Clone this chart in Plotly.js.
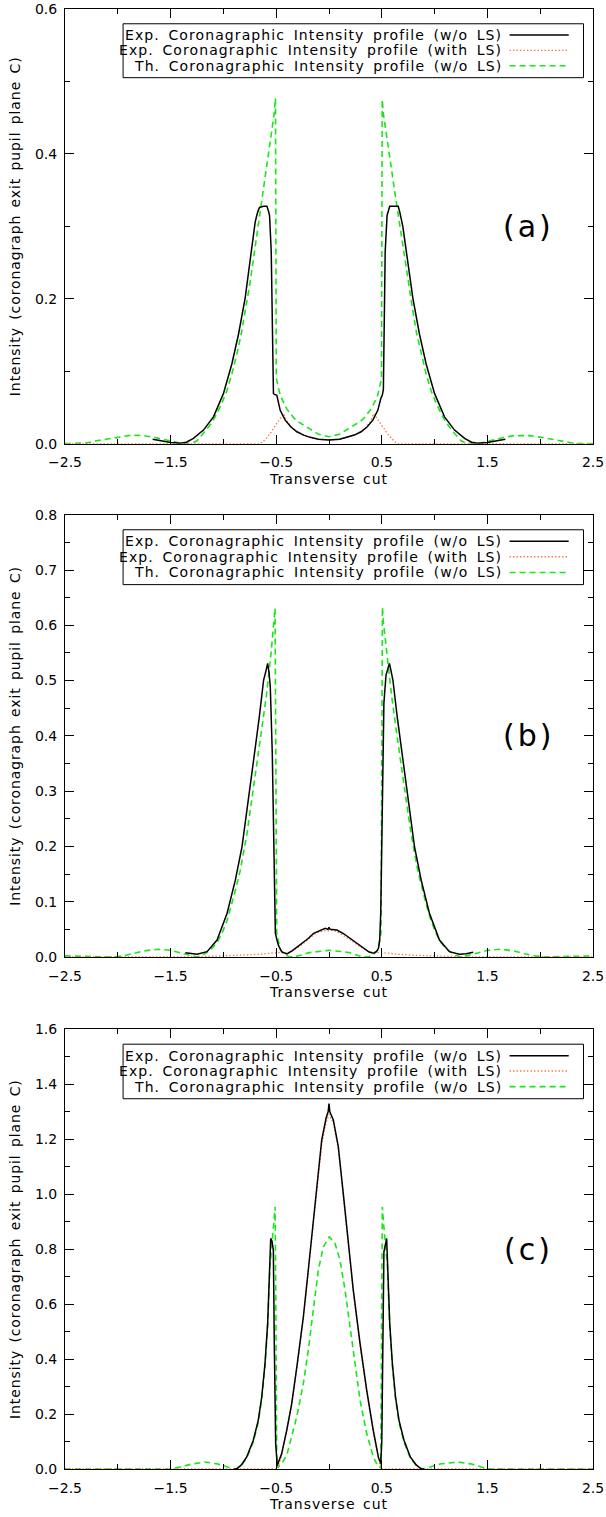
<!DOCTYPE html>
<html><head><meta charset="utf-8">
<script src="https://cdn.plot.ly/plotly-3.0.1.min.js"></script>
<style>html,body{margin:0;padding:0;background:#fff}</style>
</head><body><div id="chart" style="width:606px;height:1517px"></div>
<script>
// ---------- Panel (a) ----------
const a_exp_x = [-1.67,-1.6,-1.5,-1.41,-1.35,-1.284,-1.189,-1.094,-1.0,-0.92,-0.857,-0.794,-0.746,-0.699,-0.675,-0.658,-0.62,-0.588,-0.575,-0.563,-0.547,-0.535,-0.526,-0.515,-0.494,-0.462,-0.415,-0.36,-0.304,-0.24,-0.178,-0.1,0.0,0.1,0.178,0.24,0.304,0.36,0.415,0.462,0.49,0.505,0.515,0.523,0.532,0.55,0.575,0.62,0.655,0.67,0.699,0.746,0.794,0.857,0.92,1.0,1.094,1.189,1.284,1.35,1.41,1.5,1.6,1.67];
const a_exp_y = [0.006,0.004,0.0015,0.0005,0.002,0.0073,0.0187,0.037,0.069,0.11,0.151,0.201,0.251,0.306,0.32,0.326,0.3276,0.3276,0.322,0.315,0.265,0.151,0.069,0.068,0.0666,0.046,0.0324,0.023,0.0164,0.0118,0.0087,0.006,0.005,0.006,0.0087,0.0118,0.0164,0.023,0.0324,0.046,0.062,0.067,0.075,0.16,0.265,0.315,0.3276,0.3276,0.3276,0.32,0.3,0.251,0.201,0.151,0.11,0.069,0.037,0.0187,0.0073,0.002,0.0005,0.0015,0.004,0.006];
const a_ls_x = [-2.5,-0.652,-0.6,-0.557,-0.494,-0.45,-0.431,-0.4,-0.35,-0.3,-0.2,-0.1,0,0.1,0.2,0.3,0.35,0.4,0.42,0.44,0.494,0.557,0.6,0.645,2.5];
const a_ls_y = [0,0,0.006,0.014,0.028,0.038,0.0415,0.032,0.022,0.016,0.0095,0.006,0.005,0.006,0.0095,0.016,0.022,0.032,0.0415,0.038,0.026,0.013,0.006,0,0];
const a_th_x = [-2.5,-2.4,-2.3,-2.2,-2.1,-2.0,-1.9,-1.83,-1.75,-1.65,-1.55,-1.47,-1.4,-1.35,-1.3,-1.25,-1.189,-1.13,-1.078,-1.02,-0.967,-0.92,-0.873,-0.83,-0.794,-0.75,-0.715,-0.68,-0.652,-0.62,-0.588,-0.56,-0.541,-0.52,-0.507,-0.499,-0.46,-0.4,-0.336,-0.3,-0.2,-0.1,0,0.1,0.2,0.3,0.336,0.4,0.46,0.497,0.504,0.515,0.537,0.56,0.588,0.62,0.652,0.68,0.715,0.75,0.794,0.83,0.873,0.92,0.967,1.02,1.078,1.13,1.189,1.25,1.3,1.35,1.4,1.47,1.55,1.65,1.75,1.83,1.9,2.0,2.1,2.2,2.3,2.4,2.5];
const a_th_y = [0,0,0.001,0.004,0.0065,0.009,0.011,0.0115,0.011,0.0085,0.005,0.002,0.0005,0,0.0005,0.004,0.014,0.025,0.037,0.054,0.073,0.096,0.1235,0.152,0.183,0.22,0.2556,0.29,0.319,0.35,0.383,0.413,0.433,0.455,0.477,0.09,0.066,0.048,0.036,0.031,0.022,0.013,0.0096,0.013,0.022,0.031,0.036,0.048,0.066,0.09,0.475,0.455,0.433,0.413,0.383,0.35,0.319,0.29,0.2556,0.22,0.183,0.152,0.1235,0.096,0.073,0.054,0.037,0.025,0.014,0.004,0.0005,0,0.0005,0.002,0.005,0.0085,0.011,0.0115,0.011,0.009,0.0065,0.004,0.001,0,0];

// ---------- Panel (b) ----------
const b_exp_x = [-1.36,-1.3,-1.249,-1.155,-1.06,-0.965,-0.887,-0.824,-0.77,-0.714,-0.66,-0.619,-0.6,-0.581,-0.568,-0.556,-0.537,-0.524,-0.508,-0.492,-0.477,-0.445,-0.398,-0.35,-0.272,-0.2,-0.146,-0.08,-0.035,-0.01,0,0.01,0.075,0.14,0.201,0.26,0.327,0.38,0.421,0.45,0.469,0.48,0.49,0.5,0.51,0.52,0.54,0.572,0.585,0.605,0.646,0.7,0.756,0.81,0.873,0.951,1.046,1.14,1.235,1.3,1.365];
const b_exp_y = [0.0078,0.006,0.0049,0.0096,0.0307,0.079,0.139,0.199,0.272,0.356,0.4345,0.501,0.515,0.531,0.515,0.489,0.368,0.1875,0.043,0.03,0.02,0.009,0.0055,0.011,0.0217,0.033,0.0427,0.049,0.0519,0.05,0.0537,0.05,0.0488,0.042,0.0337,0.025,0.0157,0.009,0.0067,0.01,0.0157,0.03,0.08,0.2,0.36,0.46,0.51,0.531,0.52,0.501,0.4345,0.356,0.272,0.199,0.139,0.079,0.0307,0.0096,0.0049,0.006,0.0085];
const b_ls_x = [-2.5,-1.3,-1.0,-0.8,-0.65,-0.55,-0.5,-0.45,-0.4,-0.35,-0.272,-0.2,-0.146,-0.08,-0.03,0,0.03,0.075,0.14,0.201,0.26,0.327,0.38,0.45,0.5,0.55,0.65,0.8,1.0,1.3,2.5];
const b_ls_y = [0,0,0.002,0.003,0.005,0.007,0.008,0.008,0.007,0.011,0.02,0.031,0.04,0.046,0.048,0.047,0.048,0.046,0.039,0.031,0.023,0.015,0.009,0.008,0.008,0.007,0.005,0.003,0.002,0,0];
const b_th_x = [-2.5,-2.35,-2.2,-2.05,-1.95,-1.85,-1.75,-1.62,-1.5,-1.4,-1.3,-1.25,-1.2,-1.123,-1.06,-1.013,-0.965,-0.918,-0.88,-0.84,-0.776,-0.714,-0.65,-0.594,-0.549,-0.518,-0.511,-0.502,-0.495,-0.462,-0.42,-0.38,-0.335,-0.25,-0.2,-0.114,0,0.135,0.2,0.25,0.327,0.38,0.42,0.462,0.492,0.499,0.506,0.515,0.549,0.594,0.65,0.714,0.776,0.84,0.88,0.918,0.965,1.013,1.06,1.123,1.2,1.25,1.3,1.4,1.5,1.63,1.75,1.85,1.95,2.05,2.2,2.35,2.5];
const b_th_y = [0.002,0.001,0.0003,0,0.002,0.006,0.011,0.014,0.012,0.007,0.002,0,0.003,0.0127,0.026,0.043,0.066,0.097,0.125,0.157,0.224,0.308,0.392,0.471,0.549,0.606,0.631,0.3,0.043,0.0127,0.004,0.001,0,0.004,0.0075,0.0096,0.012,0.0096,0.0075,0.004,0,0.001,0.004,0.0127,0.043,0.3,0.633,0.606,0.549,0.471,0.392,0.308,0.224,0.157,0.125,0.097,0.066,0.043,0.026,0.0127,0.003,0,0.002,0.007,0.012,0.014,0.011,0.006,0.002,0,0.0003,0.001,0.002];

// ---------- Panel (c) ----------
const c_exp_x = [-0.9,-0.874,-0.83,-0.779,-0.717,-0.67,-0.637,-0.606,-0.581,-0.559,-0.552,-0.54,-0.527,-0.518,-0.505,-0.49,-0.448,-0.4,-0.353,-0.3,-0.243,-0.196,-0.149,-0.101,-0.069,-0.028,-0.008,0,0.008,0.041,0.088,0.135,0.183,0.23,0.294,0.357,0.419,0.467,0.49,0.5,0.51,0.52,0.546,0.553,0.575,0.6,0.63,0.663,0.71,0.77,0.826,0.874,0.9];
const c_exp_y = [0,0,0.015,0.044,0.1045,0.177,0.262,0.384,0.53,0.748,0.839,0.83,0.796,0.457,0.0925,0.013,0.056,0.141,0.238,0.384,0.553,0.724,0.906,1.088,1.197,1.276,1.3,1.33,1.3,1.27,1.173,1.003,0.821,0.651,0.457,0.287,0.141,0.044,0.02,0.1,0.45,0.79,0.839,0.748,0.53,0.384,0.262,0.177,0.1045,0.044,0.015,0,0];
const c_ls_x = [-2.5,-0.49,-0.448,-0.4,-0.353,-0.3,-0.243,-0.196,-0.149,-0.101,-0.069,-0.028,0,0.041,0.088,0.135,0.183,0.23,0.294,0.357,0.419,0.467,0.49,2.5];
const c_ls_y = [0,0,0.05,0.138,0.235,0.38,0.55,0.72,0.9,1.08,1.18,1.26,1.29,1.26,1.165,0.995,0.815,0.645,0.45,0.28,0.135,0.04,0,0];
const c_th_x = [-2.5,-2.2,-2.0,-1.8,-1.6,-1.505,-1.4,-1.3,-1.176,-1.05,-0.95,-0.883,-0.83,-0.779,-0.717,-0.67,-0.637,-0.606,-0.581,-0.559,-0.54,-0.525,-0.51,-0.502,-0.495,-0.485,-0.448,-0.4,-0.369,-0.306,-0.243,-0.196,-0.149,-0.101,-0.054,0.003,0.057,0.104,0.152,0.199,0.246,0.294,0.357,0.419,0.467,0.49,0.498,0.505,0.52,0.54,0.553,0.575,0.6,0.63,0.663,0.71,0.77,0.826,0.883,0.95,1.05,1.22,1.35,1.51,1.6,1.8,2.0,2.2,2.5];
const c_th_y = [0,0,0.002,0,0,0,0.008,0.018,0.0255,0.018,0.006,0,0.013,0.04,0.098,0.17,0.255,0.375,0.52,0.74,0.82,0.89,0.954,0.5,0.05,0.005,0.02,0.05,0.0925,0.189,0.311,0.432,0.578,0.724,0.808,0.845,0.821,0.76,0.651,0.517,0.384,0.25,0.129,0.044,0.007,0.005,0.5,0.954,0.88,0.8,0.74,0.52,0.375,0.255,0.17,0.098,0.04,0.013,0,0.006,0.018,0.0255,0.018,0,0,0,0.002,0,0];

// ---------- Text ----------
const legendLabels = ['Exp. Coronagraphic Intensity profile (w/o LS)', 'Exp. Coronagraphic Intensity profile (with LS)', 'Th. Coronagraphic Intensity profile (w/o LS)'];
const panelLabels = ['(a)', '(b)', '(c)'];
const xTitle = 'Transverse cut';
const yTitle = 'Intensity (coronagraph exit pupil plane C)';
const yRanges = [[0, 0.60001], [0, 0.80001], [0, 1.60001]];
const yDticks = [0.2, 0.1, 0.2];
const yMinor = [0.1, 0.05, 0.1];

const FAM = 'DejaVu Sans, Verdana, sans-serif';
const BLACK = '#000000', ORANGE = '#ff6a30', GREEN = '#19e619';
const styles = [
  {color: BLACK, width: 1.5, dash: 'solid'},
  {color: ORANGE, width: 1.3, dash: '1.3px,2.2px'},
  {color: GREEN, width: 1.6, dash: '6px,4px'}
];
function spaced(t, ls, ws) {
  return '<span style="letter-spacing:' + ls + 'px;word-spacing:' + ws + 'px">' + t + '</span>';
}

const panels = [
  {exp:[a_exp_x,a_exp_y], ls:[a_ls_x,a_ls_y], th:[a_th_x,a_th_y]},
  {exp:[b_exp_x,b_exp_y], ls:[b_ls_x,b_ls_y], th:[b_th_x,b_th_y]},
  {exp:[c_exp_x,c_exp_y], ls:[c_ls_x,c_ls_y], th:[c_th_x,c_th_y]}
];
const domains = [[0.7023, 1.0], [0.3507, 0.6536], [0.0, 0.3012]];

const traces = [];
const layout = {
  width: 606, height: 1517,
  margin: {l: 65, r: 13, t: 9, b: 48},
  paper_bgcolor: '#fff', plot_bgcolor: '#fff',
  showlegend: false,
  font: {family: FAM, size: 14, color: '#000'},
  shapes: [], annotations: []
};

panels.forEach((p, i) => {
  const sfx = i === 0 ? '' : String(i + 1);
  const xa = 'x' + sfx, ya = 'y' + sfx;
  [['th', 2], ['ls', 1], ['exp', 0]].forEach(([k, s]) => {
    traces.push({
      type: 'scatter', mode: 'lines', x: p[k][0], y: p[k][1],
      xaxis: xa, yaxis: ya, name: legendLabels[s],
      line: {color: styles[s].color, width: styles[s].width, dash: styles[s].dash},
      hoverinfo: 'skip'
    });
  });
  layout['xaxis' + sfx] = {
    anchor: ya, domain: [0, 1], range: [-2.50001, 2.50001],
    tickmode: 'linear', tick0: -2.5, dtick: 1, tickformat: '.1f',
    ticks: 'inside', ticklen: 9, tickwidth: 1, tickcolor: '#000',
    showline: true, linecolor: '#000', linewidth: 1, mirror: 'allticks',
    showgrid: false, zeroline: false, ticklabeloverflow: 'allow',
    minor: {tick0: -2.5, dtick: 0.5, ticks: 'inside', ticklen: 5, tickwidth: 1, tickcolor: '#000', showgrid: false},
    tickfont: {family: FAM, size: 14, color: '#000'},
    ticklabelstandoff: 6,
    title: {text: spaced(xTitle, 1, 2), font: {family: FAM, size: 14, color: '#000'}, standoff: 4}
  };
  layout['yaxis' + sfx] = {
    anchor: xa, domain: domains[i], range: yRanges[i],
    tickmode: 'linear', tick0: 0, dtick: yDticks[i], tickformat: '.1f',
    ticks: 'inside', ticklen: 9, tickwidth: 1, tickcolor: '#000',
    showline: true, linecolor: '#000', linewidth: 1, mirror: 'allticks',
    showgrid: false, zeroline: false, ticklabeloverflow: 'allow',
    minor: {tick0: 0, dtick: yMinor[i], ticks: 'inside', ticklen: 5, tickwidth: 1, tickcolor: '#000', showgrid: false},
    tickfont: {family: FAM, size: 14, color: '#000'},
    ticklabelstandoff: 4,
    title: {text: spaced(yTitle, 0.9, 2), font: {family: FAM, size: 14, color: '#000'}, standoff: 11}
  };
  const xr = xa + ' domain', yr = ya + ' domain';
  layout.shapes.push({type: 'rect', xref: xr, yref: yr, x0: 0.11, x1: 0.982, y0: 0.842, y1: 0.966,
    line: {color: '#000', width: 1}, fillcolor: '#fff', layer: 'above'});
  const rows = [0.940, 0.905, 0.8695];
  rows.forEach((ry, j) => {
    layout.shapes.push({type: 'line', xref: xr, yref: yr, x0: 0.842, x1: 0.954, y0: ry, y1: ry,
      line: {color: styles[j].color, width: styles[j].width, dash: styles[j].dash}, layer: 'above'});
    layout.annotations.push({xref: xr, yref: yr, x: 0.831, y: ry, xanchor: 'right', yanchor: 'middle',
      text: spaced(legendLabels[j], 1.1, 3), showarrow: false, font: {family: FAM, size: 14, color: '#000'}});
  });
  layout.annotations.push({xref: xr, yref: yr, x: 0.877, y: 0.5, xanchor: 'center', yanchor: 'middle',
    text: spaced(panelLabels[i], 3, 0), showarrow: false, font: {family: FAM, size: 30, color: '#000'}});
});

Plotly.newPlot('chart', traces, layout, {staticPlot: true, displayModeBar: false});
</script>
</body></html>
